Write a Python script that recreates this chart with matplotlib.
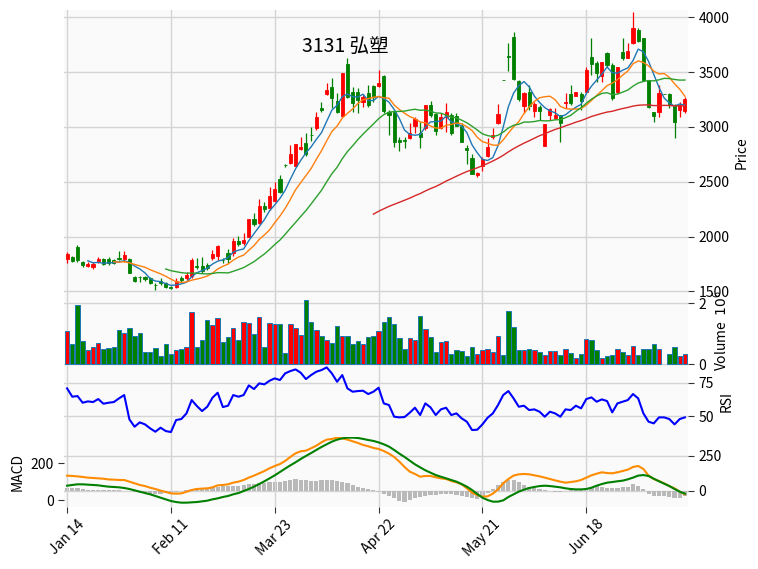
import matplotlib
matplotlib.use('Agg')
import matplotlib.pyplot as plt
import numpy as np
import pandas as pd

plt.rcParams['font.family'] = ['Noto Sans CJK TC', 'DejaVu Sans']
plt.rcParams['axes.unicode_minus'] = False

title = '3131 弘塑'
tick_labels = ['Jan 14', 'Feb 11', 'Mar 23', 'Apr 22', 'May 21', 'Jun 18']
tick_step = 20

opens = [1795, 1813, 1901, 1767, 1734, 1725, 1779, 1795, 1798, 1785,
         1801, 1795, 1795, 1633, 1633, 1633, 1618, 1560, 1597, 1579,
         1536, 1542, 1624, 1618, 1639, 1728, 1733, 1740, 1801, 1822,
         1788, 1846, 1846, 1959, 1938, 1998, 2160, 2120, 2281, 2257,
         2327, 2521, 2652, 2674, 2646, 2798, 2850, 2929, 2987, 3175,
         3297, 3367, 3235, 3100, 3574, 3321, 3321, 3230, 3306, 3373,
         3376, 3464, 3139, 3139, 2880, 2880, 2895, 3008, 2941, 2987,
         3200, 3115, 2990, 3090, 3112, 3100, 3010, 2812, 2716, 2565,
         2646, 2738, 2905, 3035, 3428, 3645, 3817, 3416, 3191, 3321,
         3148, 3178, 2826, 3108, 3078, 3108, 3215, 3297, 3285, 3297,
         3321, 3635, 3580, 3467, 3671, 3565, 3315, 3680, 3632, 3762,
         3884, 3808, 3428, 3133, 3139, 3300, 3297, 3200, 3154, 3145]
highs = [1861, 1822, 1922, 1776, 1764, 1770, 1810, 1807, 1810, 1795,
         1867, 1867, 1801, 1639, 1639, 1636, 1633, 1579, 1618, 1588,
         1548, 1618, 1639, 1673, 1801, 1801, 1816, 1761, 1877, 1922,
         1801, 1883, 1983, 2004, 2035, 2160, 2211, 2339, 2318, 2455,
         2500, 2561, 2661, 2835, 2844, 2911, 2947, 2996, 3139, 3230,
         3397, 3443, 3306, 3489, 3626, 3367, 3352, 3291, 3382, 3382,
         3519, 3474, 3154, 3154, 2911, 2905, 3032, 3093, 3048, 3200,
         3236, 3124, 3124, 3215, 3124, 3124, 3032, 2835, 2753, 2591,
         2728, 2896, 2987, 3210, 3428, 3763, 3866, 3424, 3321, 3382,
         3230, 3200, 3023, 3175, 3169, 3108, 3306, 3382, 3318, 3320,
         3550, 3808, 3600, 3589, 3686, 3580, 3550, 3808, 3763, 4051,
         3905, 3808, 3428, 3139, 3382, 3300, 3306, 3206, 3224, 3276]
lows = [1755, 1767, 1770, 1725, 1718, 1703, 1755, 1740, 1737, 1750,
        1785, 1770, 1664, 1588, 1588, 1597, 1566, 1512, 1557, 1527,
        1518, 1533, 1588, 1603, 1618, 1703, 1664, 1694, 1785, 1785,
        1755, 1761, 1822, 1913, 1922, 1992, 2099, 2111, 2220, 2242,
        2318, 2394, 2637, 2661, 2643, 2789, 2734, 2874, 2972, 3139,
        3291, 3169, 3124, 3093, 3260, 3139, 3124, 3185, 3185, 3230,
        3367, 3124, 2926, 2820, 2780, 2804, 2886, 2941, 2804, 2972,
        3093, 2926, 2978, 2956, 2926, 3005, 2865, 2664, 2570, 2546,
        2601, 2728, 2886, 3026, 3428, 3507, 3428, 3238, 3124, 3154,
        3093, 3063, 2826, 3063, 3075, 2860, 3169, 3200, 3282, 3154,
        3315, 3473, 3407, 3412, 3550, 3245, 3306, 3610, 3626, 3753,
        3778, 3419, 3169, 3041, 3093, 3300, 3169, 2895, 3093, 3124]
closes = [1840, 1776, 1785, 1740, 1752, 1749, 1792, 1749, 1755, 1761,
          1795, 1831, 1670, 1597, 1627, 1615, 1572, 1557, 1572, 1536,
          1533, 1594, 1603, 1648, 1785, 1719, 1688, 1715, 1837, 1913,
          1782, 1792, 1962, 1928, 1968, 2160, 2114, 2278, 2251, 2369,
          2433, 2409, 2649, 2753, 2844, 2820, 2750, 2923, 3093, 3154,
          3337, 3261, 3140, 3489, 3276, 3215, 3245, 3270, 3200, 3276,
          3404, 3142, 3108, 2865, 2865, 2874, 2947, 3069, 2905, 3200,
          3109, 2960, 3093, 3133, 2941, 3010, 2865, 2792, 2573, 2582,
          2704, 2820, 2923, 3118, 3428, 3635, 3440, 3256, 3312, 3191,
          3209, 3148, 3023, 3160, 3108, 3032, 3230, 3215, 3315, 3239,
          3519, 3574, 3489, 3589, 3565, 3260, 3550, 3626, 3692, 3899,
          3784, 3428, 3185, 3102, 3306, 3300, 3200, 3041, 3200, 3251]
# volume in millions, None = no trade reported
volume = [1.09, 0.65, 1.94, 0.75, 0.46, 0.55, 0.68, 0.48, 0.52, 0.55,
          1.12, 1.01, 1.17, 0.93, 1.01, 0.41, 0.41, 0.52, 0.27, 0.65,
          0.34, 0.45, 0.49, 0.55, 1.70, 0.55, 0.78, 1.45, 1.27, 1.50,
          0.71, 0.88, 1.17, 0.78, 1.37, 1.34, 0.98, 1.54, 0.55, 1.34,
          1.31, 1.31, 0.35, 1.31, 1.17, 0.94, 2.10, 1.37, 1.11, 0.91,
          0.78, 0.68, 1.24, 0.91, 0.91, 0.65, 0.75, 0.65, 0.88, 0.91,
          1.07, 1.39, 1.54, 1.31, 0.85, 0.48, 0.85, 0.78, 1.57, 1.14,
          0.88, 0.39, 0.71, 0.75, 0.34, 0.45, 0.42, 0.25, 0.55, 0.34,
          0.45, 0.48, 0.39, 0.91, 0.29, 1.75, 1.21, 0.45, 0.45, 0.48,
          0.45, 0.39, 0.29, 0.42, 0.42, 0.29, 0.48, 0.35, 0.19, 0.32,
          0.81, 0.78, 0.45, 0.20, 0.25, 0.29, 0.48, 0.39, 0.29, 0.58,
          0.29, 0.48, 0.48, 0.65, 0.48, None, 0.32, 0.55, 0.25, 0.32]
rsi = [70.75, 64.5, 65, 60, 61, 60.5, 62.75, 59.25, 60, 60.5,
       63.25, 65.75, 47.5, 42, 45.25, 43.75, 40.75, 38.25, 41.25, 38.75,
       38, 47, 47.75, 52, 62, 57.5, 53.75, 57, 63.75, 67.5,
       56.75, 57.75, 65.75, 64.5, 65.75, 73, 70.25, 74.5, 73.75, 76.5,
       78.25, 77, 82, 83.75, 85, 82.5, 77.75, 80.75, 83.25, 84.5,
       86.5, 82, 75.75, 80.75, 70.75, 68.25, 68.75, 69, 66.5, 68.25,
       71.25, 59.5, 58.25, 49.5, 49, 49.25, 52.5, 56.25, 50.75, 59.5,
       56.5, 50.75, 55, 56.25, 50.75, 52, 48.25, 45.75, 39.5, 39.75,
       43.75, 48.75, 52, 58.25, 65.75, 68.75, 63.25, 57, 57.75, 54.5,
       55, 53.25, 49.5, 53.25, 52, 49.5, 55, 54.5, 57.75, 55.75,
       62.75, 64, 60.75, 62.5, 61.25, 52.75, 59.5, 60.75, 62, 66.5,
       63.25, 52, 45.75, 44.5, 49, 49, 47.75, 43.75, 47.75, 49]
macd = [132.7, 131, 129, 125.5, 122, 120, 118, 116, 112, 111,
        109, 109, 100, 91, 82, 76, 67, 60, 51, 44,
        36, 34.5, 36, 45, 54.5, 60, 62, 63.6, 69, 80,
        82, 85.5, 94.5, 100, 109, 122, 133, 145.5, 158, 173,
        185.5, 196, 213, 234.5, 254.5, 265.5, 269, 282, 296, 314.5,
        329, 332.7, 340, 336, 329, 320, 311, 300, 292.7, 284,
        278, 267, 252.7, 234.5, 209, 180, 154.5, 142, 127, 131,
        131, 124, 118, 114.5, 103.6, 96, 85.5, 63.6, 40, 27,
        18, 20, 34.5, 58, 91, 114.5, 133, 140, 142, 140,
        134.5, 129, 122, 114.5, 107, 100, 94.5, 98, 102, 109,
        122, 134.5, 143.6, 151, 147, 145.5, 151, 158, 165.5, 180,
        185.5, 169, 133, 114.5, 103.6, 91, 76, 63.6, 45.5, 31]
signal = [78, 82, 85.5, 85.5, 83.6, 82, 80, 76, 72.7, 71,
          69, 65.5, 60, 52.7, 45.5, 38, 31, 22, 12.7, 3.6,
          -5.5, -11, -14.5, -14.5, -12.7, -11, -7.3, -3.6, 3.6, 9,
          16.4, 22, 31, 38, 49, 60, 72.7, 87, 102, 118,
          134.5, 152.7, 171, 189, 205.5, 223.6, 240, 256, 272.7, 289,
          303.6, 318, 329, 336, 340, 340, 338, 333, 327, 322,
          314, 303.6, 291, 272.7, 252.7, 234.5, 214.5, 194.5, 178, 162,
          149, 136, 127, 118, 109, 100, 87, 72.7, 54.5, 32.7,
          12.7, 0, -9, -9, -2, 16.4, 31, 45.5, 56.4, 65.5,
          71, 76, 78, 76, 72.7, 69, 63.6, 60, 58, 58,
          60, 67, 78, 87, 94.5, 98, 102, 105.5, 112.7, 122,
          133, 136, 131, 116, 102, 89, 76, 60, 45.5, 34.5]
hist = [21, 19, 17, 9.5, 5, 2.4, 2.4, 2.4, 2.4, 2.4,
        2.4, 0, -5, -9.5, -14, -17, -21, -21, -24, -19,
        -14, -9.5, -2.4, 5, 14, 17, 19, 19, 24, 28.6,
        31, 33, 36, 36, 40.5, 45, 50, 52, 57, 59.5,
        64, 64, 69, 76, 83, 78.6, 74, 69, 71.4, 74,
        74, 76, 69, 62, 55, 40.5, 28.6, 17, 9.5, 2.4,
        -7, -24, -38, -55, -74, -78.6, -69, -55, -47.6, -36,
        -28.6, -31, -26, -24, -24, -28.6, -36, -45, -55, -59.5,
        -47.6, -19, 12, 40.5, 64, 78.6, 74, 62, 40.5, 28.6,
        19, 12, 5, 0, -7, -9.5, -2.4, 2.4, 5, 5,
        17, 28.6, 36, 28.6, 19, 17, 21, 24, 28.6, 45,
        36, 12, -26, -38, -38, -40.5, -47.6, -55, -52, -38]
mav_windows = [5, 10, 20, 60]

up_color = '#ff0000'
down_color = '#008000'
mav_colors = ['#1f77b4', '#ff7f0e', '#2ca02c', '#d62728']
face = '#fafafa'
grid_color = '#d4d4d4'

o = np.array(opens, float)
h = np.array(highs, float)
l = np.array(lows, float)
c = np.array(closes, float)
x = np.arange(len(c))
colors = np.where(c > o, up_color, down_color)

fig = plt.figure(figsize=(7.58, 5.69), dpi=100)
left, width = 0.0844, 0.8233
ax_p = fig.add_axes([left, 0.4815, width, 0.5009])
ax_v = fig.add_axes([left, 0.3576, width, 0.1239], sharex=ax_p)
ax_r = fig.add_axes([left, 0.2325, width, 0.1251], sharex=ax_p)
ax_m = fig.add_axes([left, 0.1090, width, 0.1235], sharex=ax_p)
ax_h = ax_m.twinx()


def style(ax, side='right'):
    ax.set_facecolor(face)
    for s in ax.spines.values():
        s.set_visible(False)
    ax.set_axisbelow(True)
    ax.grid(True, color=grid_color, linewidth=1)
    if side == 'right':
        ax.yaxis.tick_right()
        ax.yaxis.set_label_position('right')
    ax.tick_params(axis='y', labelsize=10, length=4, color='#333333')
    ax.tick_params(axis='x', length=0, labelbottom=False)


for ax in (ax_p, ax_v, ax_r):
    style(ax)

# price panel
ax_p.vlines(x, l, h, colors=colors, linewidth=0.9, zorder=2)
ax_p.bar(x, np.abs(c - o), bottom=np.minimum(o, c), width=0.6,
         color=colors, edgecolor=colors, linewidth=0.6, zorder=2)
cs = pd.Series(c)
for w, col in zip(mav_windows, mav_colors):
    ax_p.plot(x, cs.rolling(w).mean(), color=col, linewidth=1, zorder=3)
ax_p.set_ylim(1466, 4067)
ax_p.set_yticks([1500, 2000, 2500, 3000, 3500, 4000])
ax_p.set_ylabel('Price', fontsize=10)
ax_p.set_xlim(-0.6, 119.6)

# volume panel
vx = [i for i, v in enumerate(volume) if v is not None]
vv = [volume[i] for i in vx]
vc = [colors[i] for i in vx]
ax_v.bar(vx, vv, width=0.85, color=vc, edgecolor='#1f77b4', linewidth=0.7)
ax_v.set_ylim(-0.05, 2.27)
ax_v.set_yticks([0, 2])
ax_v.set_ylabel('Volume  $10^{6}$', fontsize=10)

# rsi panel
ax_r.plot(x, rsi, color='#0000ff', linewidth=1.5)
ax_r.set_ylim(34.5, 87.9)
ax_r.set_yticks([50, 75])
ax_r.set_ylabel('RSI', fontsize=10)

# macd panel
ax_h.set_facecolor(face)
ax_h.patch.set_visible(True)
for s in ax_h.spines.values():
    s.set_visible(False)
ax_h.set_axisbelow(True)
ax_h.grid(True, axis='y', color=grid_color, linewidth=1)
ax_h.bar(x, hist, width=0.8, color='#b9b9b9')
ax_h.set_ylim(-116, 386)
ax_h.set_yticks([0, 250])
ax_h.tick_params(axis='y', labelsize=10, length=4, color='#333333')

ax_m.set_zorder(ax_h.get_zorder() + 1)
ax_m.patch.set_visible(False)
for s in ax_m.spines.values():
    s.set_visible(False)
ax_m.grid(True, axis='x', color=grid_color, linewidth=1)
ax_m.plot(x, macd, color='darkorange', linewidth=1.5)
ax_m.plot(x, signal, color='green', linewidth=1.5)
ax_m.set_ylim(-38, 345)
ax_m.set_yticks([0, 200])
ax_m.set_ylabel('MACD', fontsize=10)
ax_m.tick_params(axis='y', labelsize=10, length=4, color='#333333')

ticks = list(range(0, len(c), tick_step))
ax_m.set_xticks(ticks)
ax_m.set_xticklabels(tick_labels, rotation=45, ha='center', fontsize=10)
ax_m.tick_params(axis='x', length=4, color='#333333')

fig.text(345 / 758, 1 - 46 / 569, title, ha='center', va='center', fontsize=14)

fig.savefig('out.png', dpi=100)
